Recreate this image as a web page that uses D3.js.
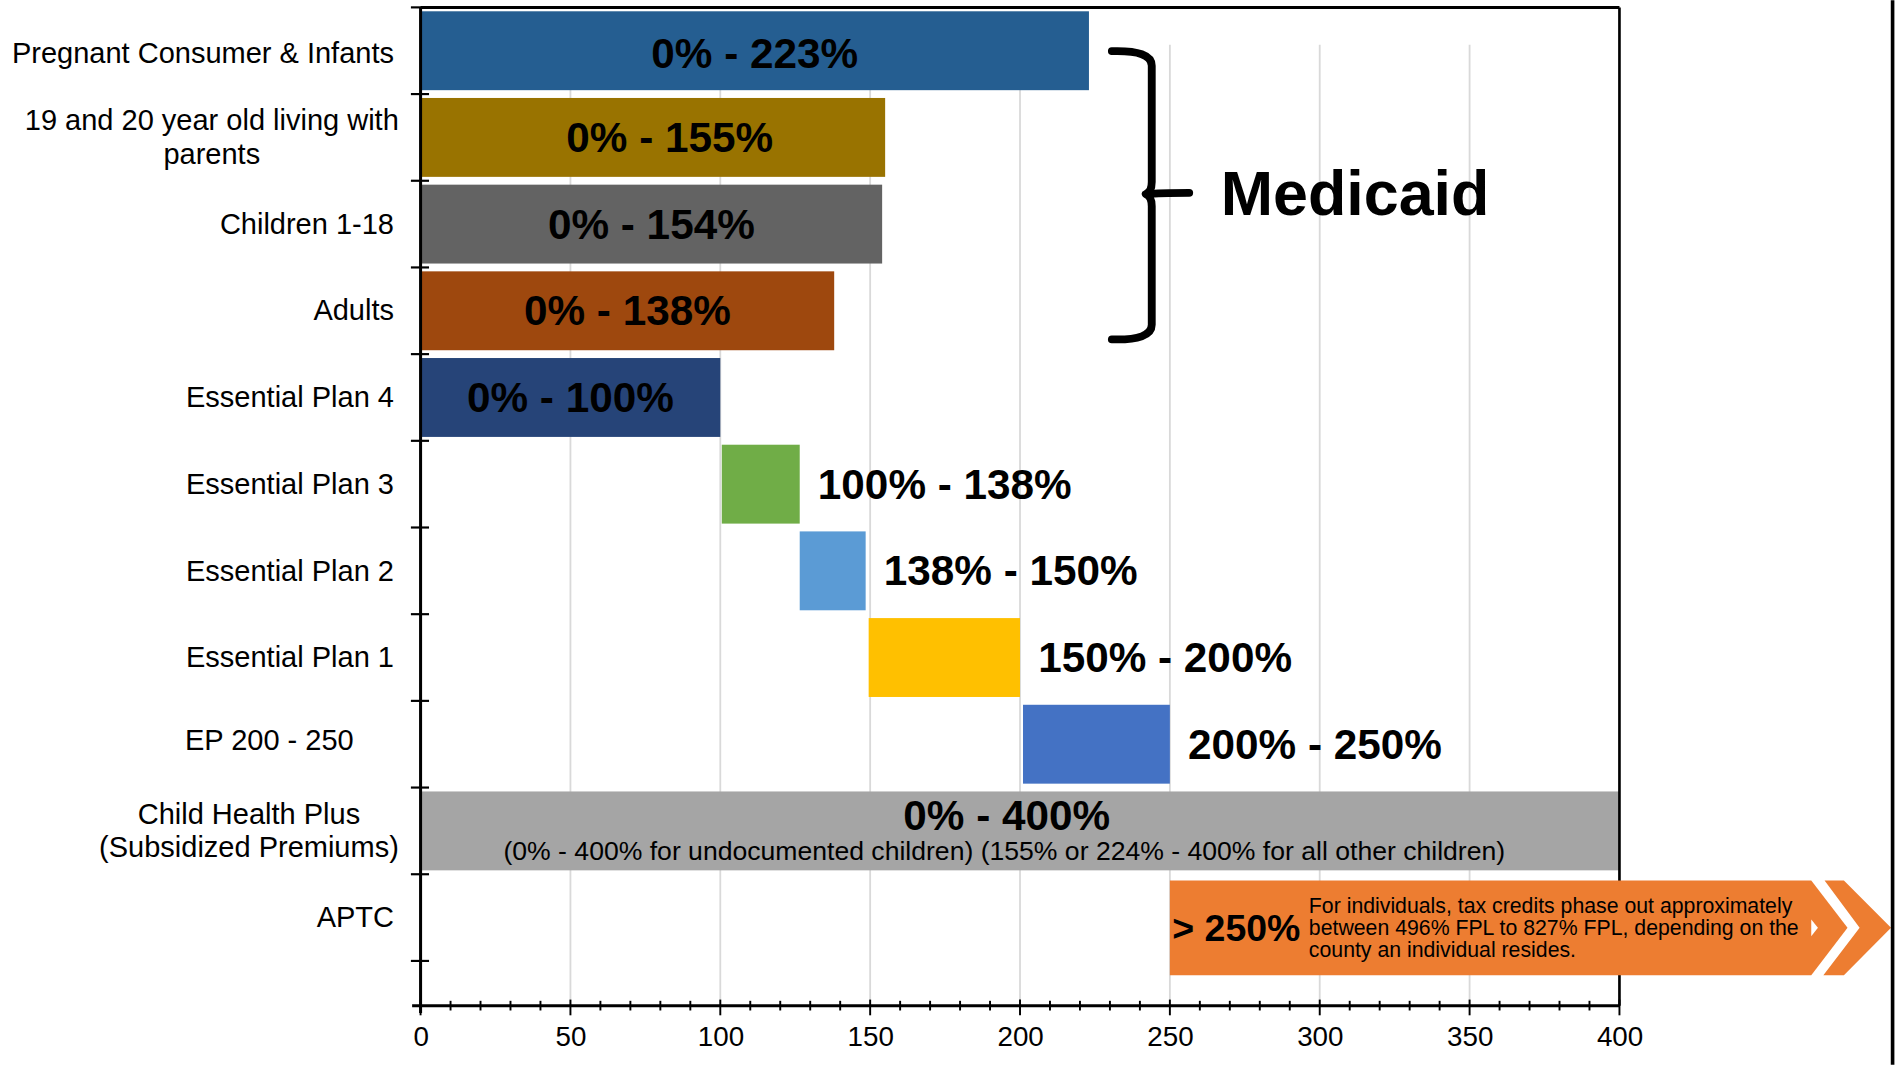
<!DOCTYPE html>
<html>
<head>
<meta charset="utf-8">
<script src="https://cdn.jsdelivr.net/npm/d3@7/dist/d3.min.js"></script>
<style>
  html, body { margin: 0; padding: 0; background: #fff; overflow: hidden; }
  svg { display: block; }
  text { font-family: "Liberation Sans", Arial, "DejaVu Sans", sans-serif; }
</style>
</head>
<body>
<svg id="chart" width="1895" height="1065" viewBox="0 0 1568 881"></svg>
<script>
// ---------- data ----------
const categories = [
  "Pregnant Consumer & Infants",
  "19 and 20 year old living with\nparents",
  "Children 1-18",
  "Adults",
  "Essential Plan 4",
  "Essential Plan 3",
  "Essential Plan 2",
  "Essential Plan 1",
  "EP 200 - 250\u00a0\u00a0\u00a0\u00a0\u00a0",
  "Child Health Plus\n(Subsidized Premiums)",
  "APTC"
];
const rangeStart = [0, 0, 0, 0, 0, 100.5, 126.5, 149.5, 201, 0, 250];
const rangeEnd   = [223, 155, 154, 138, 100, 126.5, 148.5, 200, 250, 400, 464];
const barLabels  = ["0% - 223%", "0% - 155%", "0% - 154%", "0% - 138%", "0% - 100%",
                    "100% - 138%", "138% - 150%", "150% - 200%", "200% - 250%", "0% - 400%", "> 250%"];
const chpNote = "(0% - 400% for undocumented children) (155% or 224% - 400% for all other children)";
const aptcNote = ["For individuals, tax credits phase out approximately",
                  "between 496% FPL to 827% FPL, depending on the",
                  "county an individual resides."];
const xTickLabels = [0, 50, 100, 150, 200, 250, 300, 350, 400];
const groupLabel = "Medicaid";
const medicaidRows = [0, 3];   // first and last row covered by the brace

// ---------- styles ----------
const palette = ["#255E91", "#997300", "#636363", "#9E480E", "#264478",
                 "#70AD47", "#5B9BD5", "#FFC000", "#4472C4", "#A5A5A5", "#ED7D31"];

const svg = d3.select("#chart");
const x = d3.scaleLinear().domain([0, 400]).range([348, 1340]);
const y = d3.scaleBand().domain(categories).range([6, 795]).paddingInner(0.09).paddingOuter(0.045);
const axisY = 832;
const rows = categories.map((c, i) => ({c, i, s: rangeStart[i], e: rangeEnd[i], label: barLabels[i]}));

// gridlines
svg.append("g").selectAll("line")
  .data(xTickLabels.filter(v => v > 0 && v < 400))
  .join("line")
  .attr("x1", d => x(d)).attr("x2", d => x(d))
  .attr("y1", 37).attr("y2", axisY)
  .attr("stroke", "#D9D9D9").attr("stroke-width", 1.5);

// bars (all except APTC arrow)
const barRows = rows.filter(r => r.i !== 10);
svg.append("g").selectAll("rect")
  .data(barRows)
  .join("rect")
  .attr("x", d => x(d.s))
  .attr("y", d => y(d.c))
  .attr("width", d => x(d.e) - x(d.s))
  .attr("height", y.bandwidth())
  .attr("fill", d => palette[d.i]);

// frame: top + right
svg.append("line").attr("x1", x(0)).attr("x2", x(400)).attr("y1", 6).attr("y2", 6)
  .attr("stroke", "#000").attr("stroke-width", 2.5);
svg.append("line").attr("x1", x(400)).attr("x2", x(400)).attr("y1", 6).attr("y2", axisY)
  .attr("stroke", "#000").attr("stroke-width", 2.2);

// APTC arrow
(function () {
  const r = rows[10];
  const y0 = y(r.c) + 2, y1 = y(r.c) + y.bandwidth() + 15, ym = (y0 + y1) / 2;
  const xb = x(r.s), xe = x(r.e);
  const g = svg.append("g");
  g.append("path")
    .attr("d", `M${xb},${y0} L${xe},${y0} L${xe + 30},${ym} L${xe},${y1} L${xb},${y1} Z`)
    .attr("fill", palette[10]);
  g.append("path")
    .attr("d", `M${xe},${ym - 7} L${xe + 5.5},${ym} L${xe},${ym + 7} Z`)
    .attr("fill", "#fff");
  g.append("path")
    .attr("d", `M${xe + 11},${y0} L${xe + 27},${y0} L${xe + 66},${ym} L${xe + 27},${y1} L${xe + 10},${y1} L${xe + 40},${ym} Z`)
    .attr("fill", palette[10]);
  g.append("text")
    .attr("x", xb + 2).attr("y", ym + 11)
    .attr("font-size", 31).attr("font-weight", "bold").attr("fill", "#000")
    .text(r.label);
  g.append("g").selectAll("text").data(aptcNote).join("text")
    .attr("x", xb + 115).attr("y", (d, i) => ym - 12 + i * 18)
    .attr("font-size", 17.6).attr("fill", "#000")
    .text(d => d);
})();

// y axis line + ticks
svg.append("line").attr("x1", x(0)).attr("x2", x(0)).attr("y1", 6).attr("y2", axisY + 6)
  .attr("stroke", "#000").attr("stroke-width", 2.5);
const yTicks = d3.range(categories.length + 1).map(i => y.range()[0] + i * y.step());
svg.append("g").selectAll("line").data(yTicks).join("line")
  .attr("x1", x(0) - 8).attr("x2", x(0) + 7)
  .attr("y1", d => d).attr("y2", d => d)
  .attr("stroke", "#000").attr("stroke-width", 1.8);

// x axis
svg.append("line").attr("x1", x(0) - 7).attr("x2", x(400)).attr("y1", axisY).attr("y2", axisY)
  .attr("stroke", "#000").attr("stroke-width", 2.5);
svg.append("g").selectAll("line").data(d3.range(0, 401, 10)).join("line")
  .attr("x1", d => x(d)).attr("x2", d => x(d))
  .attr("y1", d => d % 50 === 0 ? axisY - 5 : axisY - 4)
  .attr("y2", d => d % 50 === 0 ? axisY + 8 : axisY + 4)
  .attr("stroke", "#000").attr("stroke-width", 1.6);
const xAxis = d3.axisBottom(x).tickValues(xTickLabels).tickSize(0).tickPadding(0);
const xg = svg.append("g").attr("transform", `translate(0,${axisY})`).call(xAxis);
xg.select(".domain").remove();
xg.selectAll("text").attr("font-size", 23).attr("fill", "#000")
  .attr("font-family", '"Liberation Sans", Arial, sans-serif')
  .attr("dy", null).attr("y", 33);

// category labels
const labG = svg.append("g");
rows.forEach(r => {
  const lines = r.c.split("\n");
  const cy = y(r.c) + y.bandwidth() / 2;
  const t = labG.append("text").attr("font-size", 24).attr("fill", "#000")
    .style("white-space", "pre");
  const lh = 28;
  const shift = r.i === 0 ? 2 : (r.i === 8 ? -3 : 0);
  lines.forEach((ln, k) => {
    t.append("tspan").attr("x", 326).attr("y", cy + 8 + shift + (k - (lines.length - 1) / 2) * lh).text(ln);
  });
  if (lines.length > 1) {
    const w = d3.max(t.selectAll("tspan").nodes(), n => n.getComputedTextLength());
    const cx = 330 - w / 2;
    t.attr("text-anchor", "middle").selectAll("tspan").attr("x", cx);
  } else {
    t.attr("text-anchor", "end");
  }
});

// bar value labels
const valG = svg.append("g");
barRows.forEach(r => {
  const cy = y(r.c) + y.bandwidth() / 2;
  if (r.s === 0) {
    const isCHP = r.i === 9;
    valG.append("text")
      .attr("x", (x(r.s) + x(r.e)) / 2 - (isCHP ? 11 : 0) + (r.i === 1 ? 14 : 0))
      .attr("y", isCHP ? cy - 1 : cy + 12 + (r.i === 0 ? 2 : 0))
      .attr("text-anchor", "middle")
      .attr("font-size", 35).attr("font-weight", "bold").attr("fill", "#000")
      .text(r.label);
    if (isCHP) {
      valG.append("text")
        .attr("x", (x(r.s) + x(r.e)) / 2 - 13)
        .attr("y", cy + 24)
        .attr("text-anchor", "middle")
        .attr("font-size", 22).attr("fill", "#000")
        .text(chpNote);
    }
  } else {
    valG.append("text")
      .attr("x", x(r.e) + 15)
      .attr("y", cy + 12)
      .attr("font-size", 35).attr("font-weight", "bold").attr("fill", "#000")
      .text(r.label);
  }
});

// Medicaid brace
(function () {
  const top = y(categories[medicaidRows[0]]) + 33;
  const bot = y(categories[medicaidRows[1]]) + y.bandwidth() - 9;
  const mid = (top + bot) / 2 - 1;
  const xl = 920, xv = 953, xp = 984;
  const g = svg.append("g").attr("fill", "none").attr("stroke", "#000")
    .attr("stroke-width", 6.5).attr("stroke-linecap", "round").attr("stroke-linejoin", "round");
  g.append("path").attr("d",
    `M${xl},${top} Q${xv},${top - 1} ${xv},${top + 12} L${xv},${mid - 10} Q${xv},${mid - 2} ${xv - 5},${mid}` +
    ` Q${xv},${mid + 2} ${xv},${mid + 10} L${xv},${bot - 12} Q${xv},${bot + 1} ${xl},${bot}`);
  g.append("path").attr("d", `M${xv - 3},${mid} Q${xv + 5},${mid - 1} ${xp},${mid - 1}`);
  svg.append("text").attr("x", 1010).attr("y", mid + 17)
    .attr("font-size", 52).attr("font-weight", "bold").attr("fill", "#000")
    .text(groupLabel);
})();

// right edge line
svg.append("line").attr("x1", 1566).attr("x2", 1566).attr("y1", 0).attr("y2", 881)
  .attr("stroke", "#000").attr("stroke-width", 3);
</script>
</body>
</html>
